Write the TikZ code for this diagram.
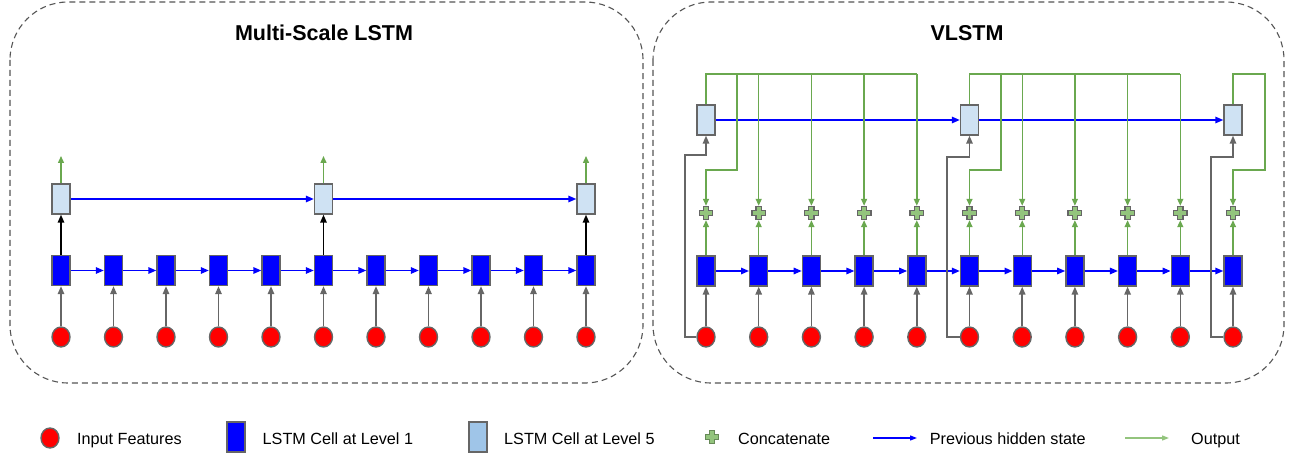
\documentclass[tikz,border=0pt]{standalone}
\usepackage{fontspec}
\setmainfont{Liberation Sans}
\usetikzlibrary{arrows.meta,calc,shapes.geometric}
\definecolor{blueC}{HTML}{0000FF}
\definecolor{lightB}{HTML}{CFE2F3}
\definecolor{legB}{HTML}{9FC5E8}
\definecolor{redC}{HTML}{FF0000}
\definecolor{borderG}{HTML}{666666}
\definecolor{greenL}{HTML}{6AA84F}
\definecolor{greenO}{HTML}{93C47D}
\definecolor{panelG}{HTML}{555555}
\begin{document}
\begin{tikzpicture}[x=1pt,y=-1pt,
  lvlone/.style={draw=borderG, fill=blueC, line width=1.4pt, minimum width=18pt, minimum height=30pt, inner sep=0pt},
  lvlfive/.style={draw=borderG, fill=lightB, line width=1.4pt, minimum width=18pt, minimum height=30pt, inner sep=0pt},
  infeat/.style={ellipse, draw=borderG, fill=redC, line width=1.4pt, minimum width=18pt, minimum height=20pt, inner sep=0pt},
  plusn/.style={minimum width=14pt, minimum height=14pt, inner sep=0pt},
  plusshape/.style={fill=greenO, draw=borderG, line width=1.3pt},
  tip/.style={-{Triangle[length=8pt,width=6.5pt]}},
  harrow/.style={draw=blueC, line width=1.5pt, tip},
  inarrow/.style={draw=borderG, line width=1.5pt, tip},
  uparrow/.style={draw=black, line width=1.5pt, tip},
  gline/.style={draw=greenL, line width=1.4pt},
  garrow/.style={draw=greenL, line width=1.4pt, -{Triangle[length=7pt,width=6pt]}},
  oarrow/.style={draw=greenL, line width=1.4pt, -{Triangle[length=7pt,width=6pt]}},
  panel/.style={draw=panelG, line width=1.1pt, dash pattern=on 6pt off 4pt, rounded corners=58pt},
  titletext/.style={font=\fontsize{21.5}{24}\selectfont\bfseries, anchor=base, inner sep=0pt},
  legtext/.style={font=\fontsize{16.2}{19}\selectfont, anchor=base west, inner sep=0pt}
]
\useasboundingbox (0,0) rectangle (1291,454);

% panels
\draw[panel] (10,2) rectangle (643,383);
\draw[panel] (653,2) rectangle (1284,383);
\node[titletext] (t1) at (324,40.7) {Multi-Scale LSTM};
\node[titletext] (t2) at (967,40.7) {VLSTM};

% ---------------- left panel ----------------
\foreach \i in {0,...,10}{
  \node[infeat] (lc\i) at ({61+52.5*\i},337) {};
  \node[lvlone] (lb\i) at ({61+52.5*\i},270.5) {};
  \draw[inarrow] (lc\i.north) -- (lb\i.south);
}
\foreach \i [evaluate=\i as \j using int(\i+1)] in {0,...,9}{
  \draw[harrow] (lb\i.east) -- (lb\j.west);
}
\foreach \i in {0,5,10}{
  \node[lvlfive] (lh\i) at ({61+52.5*\i},199) {};
  \coordinate (lo\i) at ({61+52.5*\i},156);
  \draw[uparrow] (lb\i.north) -- (lh\i.south);
  \draw[oarrow] (lh\i.north) -- (lo\i);
}
\draw[harrow] (lh0.east) -- (lh5.west);
\draw[harrow] (lh5.east) -- (lh10.west);

% ---------------- right panel ----------------
\foreach \i in {0,...,10}{
  \node[infeat] (rc\i) at ({706+52.7*\i},337) {};
  \node[lvlone] (rb\i) at ({706+52.7*\i},271) {};
  \node[plusn] (rp\i) at ({706+52.7*\i},213) {};
  \draw[inarrow] (rc\i.north) -- (rb\i.south);
  \draw[garrow] (rb\i.north) -- (rp\i.south);
}
\foreach \i [evaluate=\i as \j using int(\i+1)] in {0,...,9}{
  \draw[harrow] (rb\i.east) -- (rb\j.west);
}
\foreach \i in {0,5,10}{
  \node[lvlfive] (rh\i) at ({706+52.7*\i},120) {};
}
\draw[harrow] (rh0.east) -- (rh5.west);
\draw[harrow] (rh5.east) -- (rh10.west);

% gray routing from input features to level-5 cells
\draw[inarrow] (rc0.west) -| (685,155) -| (rh0.south);
\draw[inarrow] (rc5.west) -| (947,157) -| (rh5.south);
\draw[inarrow] (rc10.west) -| (1211,157) -| (rh10.south);

% green routing: group 1
\draw[gline] (rh0.north) |- (rp4.north |- 0,74);
\draw[garrow] (737,74) -- (737,170) -| (rp0.north);
\foreach \i in {1,...,4}{
  \draw[garrow] (rp\i.north |- 0,74) -- (rp\i.north);
}
% group 2
\draw[gline] (rh5.north) |- (rp9.north |- 0,74);
\draw[garrow] (1001,74) -- (1001,170) -| (rp5.north);
\foreach \i in {6,...,9}{
  \draw[garrow] (rp\i.north |- 0,74) -- (rp\i.north);
}
% group 3
\draw[garrow] (rh10.north) |- (1265,74) -- (1265,170) -| (rp10.north);

% plus shapes
\foreach \i in {0,...,10}{
  \draw[plusshape, shift={(rp\i.center)}] (-2.6,-6.8) -- (2.6,-6.8) -- (2.6,-2.6) -- (6.8,-2.6) -- (6.8,2.6) -- (2.6,2.6) -- (2.6,6.8) -- (-2.6,6.8) -- (-2.6,2.6) -- (-6.8,2.6) -- (-6.8,-2.6) -- (-2.6,-2.6) -- cycle;
}

% ---------------- legend ----------------
\node[infeat] (gc) at (50,438) {};
\node[legtext] (gct) at (77,444) {Input Features};
\node[lvlone] (gb) at (236,437) {};
\node[legtext] (gbt) at (262.5,444) {LSTM Cell at Level 1};
\node[lvlfive, fill=legB] (gh) at (478,437) {};
\node[legtext] (ght) at (504,444) {LSTM Cell at Level 5};
\node[plusn] (gp) at (712,437) {};
\draw[plusshape, draw=greenO!70!black, line width=0.8pt, shift={(gp.center)}] (-2.6,-6.8) -- (2.6,-6.8) -- (2.6,-2.6) -- (6.8,-2.6) -- (6.8,2.6) -- (2.6,2.6) -- (2.6,6.8) -- (-2.6,6.8) -- (-2.6,2.6) -- (-6.8,2.6) -- (-6.8,-2.6) -- (-2.6,-2.6) -- cycle;
\node[legtext] (gpt) at (738,444) {Concatenate};
\coordinate (ga1) at (873,438);
\coordinate (ga2) at (917,438);
\draw[harrow, line width=1.2pt, -{Triangle[length=7pt,width=5pt]}] (ga1) -- (ga2);
\node[legtext] (gat) at (929.6,444) {Previous hidden state};
\coordinate (go1) at (1125,438);
\coordinate (go2) at (1169,438);
\draw[draw=greenO, line width=1.2pt, -{Triangle[length=7pt,width=5pt]}] (go1) -- (go2);
\node[legtext] (got) at (1191,444) {Output};
\end{tikzpicture}
\end{document}
